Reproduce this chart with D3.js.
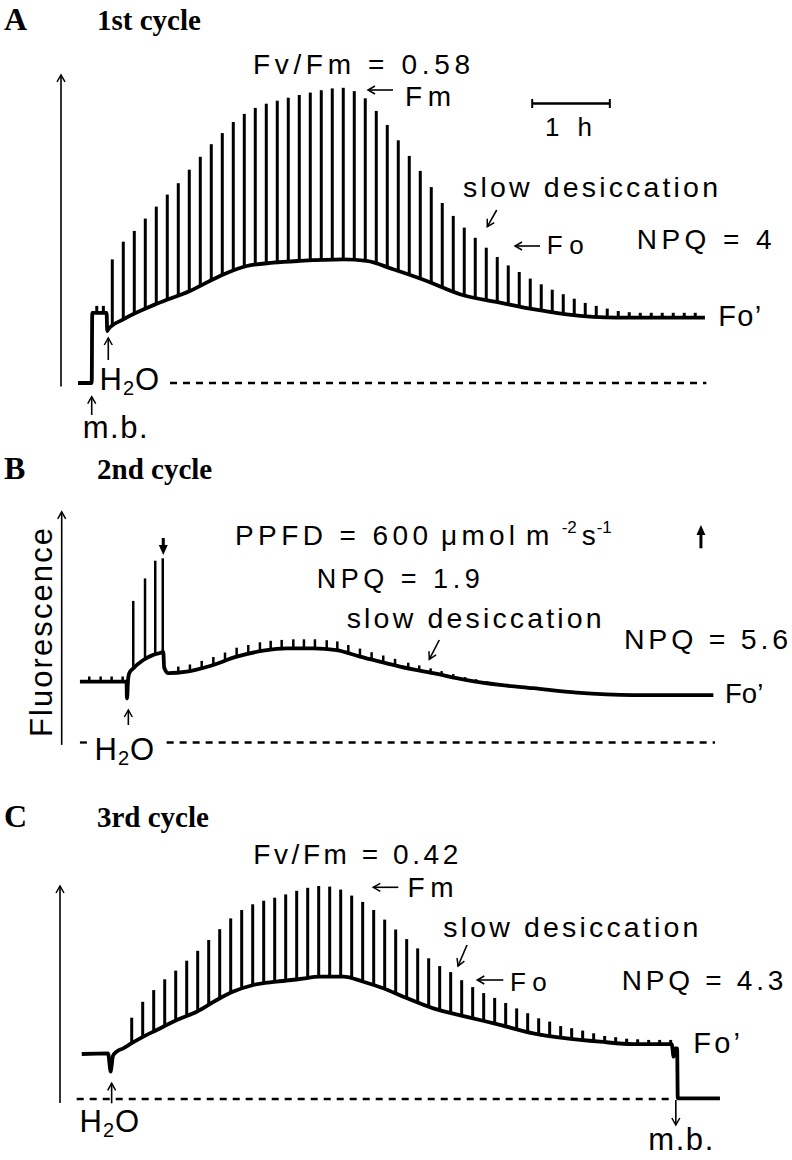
<!DOCTYPE html>
<html>
<head>
<meta charset="utf-8">
<script src="https://cdn.jsdelivr.net/npm/d3@7"></script>
<style>
  body { margin: 0; background: #fff; }
  svg text { font-family: "Liberation Sans", Arial, sans-serif; fill: #000; }
  svg text.title { font-family: "Liberation Serif", "Times New Roman", serif; font-weight: bold; }
</style>
</head>
<body>
<div id="chart"></div>
<script>
// time in minutes, fluorescence in relative units (0 = dashed line)

// Panel A, 1st cycle
var foTimeA = [0, 10.6, 11.0, 22.1, 22.6, 23.4, 35, 60.8, 86.5, 112.3, 130.4, 150.9, 171.5, 205, 223.1, 243.6, 269.5, 295.2, 326.1, 351.6, 377.6, 416.3, 484.5];
var foA = [0, 0, 23.4, 23.4, 17.3, 17.9, 21.2, 26.4, 30.7, 36.2, 39.0, 40.1, 40.7, 41.2, 40.7, 37.9, 34.0, 29.6, 26.8, 24.6, 22.9, 21.8, 21.8];
var pulseTimeA = [14.5, 19.6, 26.5, 35, 43.5, 52, 60.5, 69, 77.5, 86, 94.5, 103, 111.5, 120, 128.5, 137, 145.5, 154, 162.5, 171,
  179.5, 188, 196.5, 205, 213.5, 222, 230.5, 239, 247.5, 256, 264.5, 273, 281.5, 290, 298.5, 307, 315.5, 324, 332.5,
  341, 349.5, 358, 366.5, 375, 383.5, 392, 400.5, 409, 417.5, 426, 434.5, 443, 451.5, 460, 468.5, 477];
var fmA = [25.7, 25.7, 41.2, 47.1, 50.7, 54.8, 58.8, 62.8, 66.6, 71.1, 75.4, 79.6, 83.3, 87.0, 89.7, 91.7, 93.1, 94.1, 95.1, 96.0,
  96.8, 97.6, 98.2, 98.4, 97.3, 94.9, 90.7, 86.0, 80.9, 75.7, 70.7, 65.3, 60.0, 55.7, 51.8, 48.4, 45.1, 42.0, 39.2,
  37.0, 34.8, 32.9, 31.1, 29.6, 28.1, 26.7, 25.7, 24.8, 24.0, 23.6, 23.4, 23.4, 23.4, 23.4, 23.4, 23.4];

// Panel B, 2nd cycle
var foTimeB = [1.5, 37.5, 37.8, 38.1, 38.6, 39.6, 42.7, 50.5, 58.2, 63.9, 65.9, 66.6, 69.8, 84, 102, 122.6, 143.2, 161.3, 181.8, 199.9,
  217.9, 238.5, 248.8, 274.6, 300.4, 326.1, 351.8, 385.4, 429.1, 491];
var foB = [20.3, 20.3, 14.7, 15.5, 20.5, 23.1, 24.7, 27.5, 29.2, 29.9, 30.2, 25.0, 23.1, 23.6, 25.5, 28.6, 30.6, 31.4, 31.4, 30.8,
  28.6, 26.4, 25.3, 23.1, 20.8, 19.2, 18.1, 16.6, 15.8, 15.8];
var pulseTimeB = [8.7, 17.5, 26.0, 34.5, 42.7, 51.8, 59.7, 65.5, 77.5, 86.5, 95.6, 104.6, 113.6, 122.6, 131.6, 140.6, 148.9, 157.4,
  166.4, 174.6, 183.1, 192.2, 200.4, 208.9, 217.9, 226.9, 235.9, 245.0, 255.2, 263.7, 272.5, 281.0, 290.0, 299.1, 307.6, 316.3];
var fmB = [22.0, 22.0, 22.0, 22.0, 47.2, 54.7, 60.6, 61.4, 25.3, 26.0, 27.2, 28.5, 30.0, 31.6, 32.5, 33.4, 33.9, 34.2,
  34.4, 34.4, 34.4, 34.1, 33.7, 32.5, 31.3, 30.1, 29.0, 27.9, 26.6, 25.7, 24.7, 23.8, 22.8, 21.8, 21.1, 20.4];

// Panel C, 3rd cycle
var foTimeC = [2.9, 23.2, 25.3, 25.8, 27.0, 29.9, 35.0, 41.5, 50.5, 60.8, 76.3, 91.7, 107.2, 120.0, 135.5, 153.5, 171.5, 187.0, 205.0,
  220.5, 235.9, 251.4, 274.6, 300.4, 326.1, 351.8, 377.6, 403.4, 429.1, 458.8, 460.3, 461.6, 463.0, 463.5, 496.1];
var foC = [15.0, 15.2, 9.1, 10.5, 14.3, 15.8, 16.9, 18.6, 20.8, 23.0, 26.3, 29.1, 33.0, 35.8, 38.0, 39.1, 40.0, 40.8, 40.8,
  39.1, 36.9, 34.1, 30.2, 27.4, 24.7, 21.9, 20.2, 19.1, 18.3, 18.3, 14.1, 16.9, 16.9, 0.2, 0.2];
var pulseTimeC = [41.5, 50, 58.5, 67, 75.5, 84, 92.5, 101, 109.5, 118, 126.5, 135, 143.5, 152, 160.5, 169, 177.5, 186, 194.5, 203,
  211.5, 220, 228.5, 237, 245.5, 254, 262.5, 271, 279.5, 288, 296.5, 305, 313.5, 322, 330.5, 339, 347.5, 356, 364.5,
  373, 381.5, 390, 398.5, 407, 415.5, 424, 432.5, 441, 449.5, 458];
var fmC = [27.1, 32.4, 36.3, 39.9, 42.8, 46.1, 49.4, 53.0, 56.6, 60.2, 63.0, 64.9, 66.1, 67.1, 68.2, 69.4, 70.4, 71.0, 70.8, 69.8,
  67.8, 65.7, 63.0, 59.8, 56.5, 53.3, 50.2, 46.9, 44.3, 42.3, 39.6, 37.3, 35.3, 33.7, 32.0, 30.2, 28.6, 26.9, 25.8,
  24.3, 23.6, 22.8, 21.9, 21.0, 20.6, 20.1, 19.9, 19.7, 19.7, 19.7];

// events (min)
var waterTimes = [23.4, 38.9, 26.0];     // A, B, C
var mbTimes = [10.6, 462];               // start of A, end of C
var lightTimes = [65.9, 481.4];          // B: light change arrows

var width = 792, height = 1160;

var svg = d3.select("#chart").append("svg")
    .attr("width", width)
    .attr("height", height);

var defs = svg.append("defs");
defs.append("marker")
    .attr("id", "head")
    .attr("viewBox", "-10 -6 12 12")
    .attr("refX", 0).attr("refY", 0)
    .attr("markerWidth", 12).attr("markerHeight", 12)
    .attr("markerUnits", "userSpaceOnUse")
    .attr("orient", "auto")
  .append("path")
    .attr("d", "M-7,-4L0,0L-7,4")
    .attr("fill", "none")
    .attr("stroke", "#000")
    .attr("stroke-width", 1.5);
defs.append("marker")
    .attr("id", "headBold")
    .attr("viewBox", "-6 -7 16 14")
    .attr("refX", 0).attr("refY", 0)
    .attr("markerWidth", 16).attr("markerHeight", 14)
    .attr("markerUnits", "userSpaceOnUse")
    .attr("orient", "auto")
  .append("path")
    .attr("d", "M-3,-4.5L7,0L-3,4.5Z")
    .attr("fill", "#000");

// shared time axis: 1 h = ~78 px
var x = d3.scaleLinear().domain([0, 500]).range([78, 725]);

var yA = d3.scaleLinear().domain([0, 100]).range([383, 83]);
var yB = d3.scaleLinear().domain([0, 100]).range([742.5, 442.5]);
var yC = d3.scaleLinear().domain([0, 100]).range([1099, 799]);

function foAt(times, vals, t) {
    var i = d3.bisectRight(times, t);
    if (i <= 0) return vals[0];
    if (i >= times.length) return vals[vals.length - 1];
    var t0 = times[i - 1], t1 = times[i];
    return vals[i - 1] + (vals[i] - vals[i - 1]) * (t - t0) / (t1 - t0);
}

function drawTrace(y, times, fo, pulses, fm, pulseWidth) {
    var g = svg.append("g");
    // saturating pulses
    g.selectAll("line.pulse")
        .data(pulses)
      .enter().append("line")
        .attr("class", "pulse")
        .attr("x1", function(d) { return x(d); })
        .attr("x2", function(d) { return x(d); })
        .attr("y1", function(d) { return y(foAt(times, fo, d)); })
        .attr("y2", function(d, i) { return y(fm[i]); })
        .attr("stroke", "#000")
        .attr("stroke-width", pulseWidth);

    var line = d3.line()
        .x(function(d) { return x(d[0]); })
        .y(function(d) { return y(d[1]); })
        .curve(d3.curveMonotoneX);

    g.append("path")
        .datum(times.map(function(t, i) { return [t, fo[i]]; }))
        .attr("d", line)
        .attr("fill", "none")
        .attr("stroke", "#000")
        .attr("stroke-width", 3.8)
        .attr("stroke-linejoin", "round");
}

function dashed(y, t0, t1) {
    svg.append("line")
        .attr("x1", x(t0)).attr("x2", x(t1))
        .attr("y1", y(0)).attr("y2", y(0))
        .attr("stroke", "#000")
        .attr("stroke-width", 2.3)
        .attr("stroke-dasharray", "7,6");
}

function axisArrow(px, y, v0, v1) {
    svg.append("line")
        .attr("x1", px).attr("x2", px)
        .attr("y1", y(v0)).attr("y2", y(v1))
        .attr("stroke", "#000")
        .attr("stroke-width", 1.6)
        .attr("marker-end", "url(#head)");
}

function arrow(x1, y1, x2, y2, bold) {
    svg.append("line")
        .attr("x1", x1).attr("y1", y1)
        .attr("x2", x2).attr("y2", y2)
        .attr("stroke", "#000")
        .attr("stroke-width", bold ? 3 : 1.6)
        .attr("marker-end", bold ? "url(#headBold)" : "url(#head)");
}

function label(txt, x0, y0, size, len) {
    var t = svg.append("text")
        .attr("x", x0)
        .attr("y", y0)
        .style("font-size", size + "px")
        .text(txt);
    if (len) t.attr("textLength", len).attr("lengthAdjust", "spacing");
    return t;
}

function title(letter, txt, y0) {
    svg.append("text").attr("class", "title")
        .attr("x", 4).attr("y", y0)
        .style("font-size", "32px")
        .text(letter);
    svg.append("text").attr("class", "title")
        .attr("x", 97).attr("y", y0)
        .style("font-size", "29px")
        .text(txt);
}

function h2o(x0, y0) {
    var t = svg.append("text")
        .attr("x", x0).attr("y", y0)
        .style("font-size", "31px")
        .style("letter-spacing", "1px");
    t.append("tspan").text("H");
    t.append("tspan").attr("dy", 5).style("font-size", "20px").text("2");
    t.append("tspan").attr("dy", -5).text("O");
}

// ---------- A ----------
title("A", "1st cycle", 30);
axisArrow(61, yA, -1.2, 102.7);
dashed(yA, 71.1, 485.6);
drawTrace(yA, foTimeA, foA, pulseTimeA, fmA, 3);

label("Fv/Fm = 0.58", 253, 74, 28, 217);
arrow(393, 90, 368, 90);
label("Fm", 405, 106, 28, 46);
// scale bar, 1 h
svg.append("line").attr("x1", x(351)).attr("x2", x(411)).attr("y1", 103.5).attr("y2", 103.5)
    .attr("stroke", "#000").attr("stroke-width", 2.5);
[351, 411].forEach(function(t) {
    svg.append("line").attr("x1", x(t)).attr("x2", x(t)).attr("y1", 99).attr("y2", 108)
        .attr("stroke", "#000").attr("stroke-width", 2);
});
label("1 h", 545, 136, 26, 47);
label("slow desiccation", 463, 196.7, 28.5, 255);
arrow(496.7, 210, 487.3, 226.7);
arrow(540, 246, 515, 246);
label("Fo", 546.7, 254, 26, 37);
label("NPQ = 4", 636.7, 249.3, 28, 135);
label("Fo\u2019", 718.3, 326, 29, 43);
arrow(x(waterTimes[0]), 360, x(waterTimes[0]), 338);
h2o(99.5, 390);
arrow(x(mbTimes[0]), 415, x(mbTimes[0]), 396.7);
label("m.b.", 82.7, 438.3, 31, 65);

// ---------- B ----------
title("B", "2nd cycle", 479.3);
axisArrow(61.7, yB, -0.8, 76.9);
dashed(yB, 1.5, 7.7);
dashed(yB, 68.5, 492.3);
drawTrace(yB, foTimeB, foB, pulseTimeB, fmB, 2.5);

svg.append("text")
    .attr("transform", "translate(51.7,737) rotate(-90)")
    .style("font-size", "31px")
    .attr("textLength", 209)
    .attr("lengthAdjust", "spacing")
    .text("Fluorescence");

label("PPFD = 600", 235, 545, 28, 193);
label("\u03bcmol", 441, 545, 28, 74);
label("m", 526, 545, 28);
label("-2", 561.7, 533, 17);
label("s", 581.7, 545, 28);
label("-1", 596.7, 533, 17);
arrow(x(lightTimes[0]), 538, x(lightTimes[0]), 548, true);
arrow(x(lightTimes[1]), 548.3, x(lightTimes[1]), 532, true);
label("NPQ = 1.9", 316.7, 588.3, 27, 163);
label("slow desiccation", 346.7, 628.3, 28.5, 255);
arrow(439.3, 640, 429.3, 659.3);
label("NPQ = 5.6", 624, 649.3, 28.5, 164);
label("Fo\u2019", 725, 703.3, 27.5, 38.3);
arrow(x(waterTimes[1]), 725, x(waterTimes[1]), 710);
h2o(94.5, 760);

// ---------- C ----------
title("C", "3rd cycle", 826.7);
axisArrow(60, yC, -1.3, 71);
dashed(yC, -1.0, 457.5);
drawTrace(yC, foTimeC, foC, pulseTimeC, fmC, 3);

label("Fv/Fm = 0.42", 253.3, 864, 28, 205);
arrow(398.3, 887.3, 373.3, 887.3);
label("Fm", 407.5, 896.7, 28, 46);
label("slow desiccation", 443.3, 937.3, 28.5, 255);
arrow(467, 945, 458, 966);
arrow(503.3, 980, 477.3, 980);
label("Fo", 510, 990.7, 26, 36.7);
label("NPQ = 4.3", 621.7, 990, 28, 161.6);
label("Fo\u2019", 693.3, 1052.7, 29, 46.7);
arrow(x(waterTimes[2]), 1103.3, x(waterTimes[2]), 1083.3);
h2o(79.5, 1131.7);
arrow(x(mbTimes[1]), 1100, x(mbTimes[1]), 1125);
label("m.b.", 648.3, 1150, 31, 65);
</script>
</body>
</html>
